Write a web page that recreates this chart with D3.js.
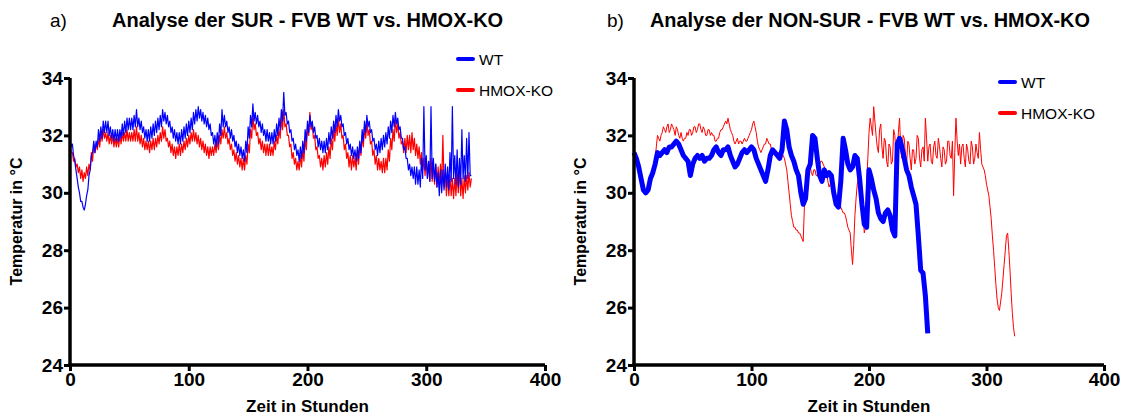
<!DOCTYPE html>
<html>
<head>
<meta charset="utf-8">
<script src="https://cdn.jsdelivr.net/npm/d3@7"></script>
<style>
    body { margin: 0; background: #fff; }
    text { font-family: "Liberation Sans", Arial, Helvetica, sans-serif; }
</style>
</head>
<body>
<div id="chart"></div>
<script>
const xTicks = [0, 100, 200, 300, 400];
const yTicks = [24, 26, 28, 30, 32, 34];
const seriesNames = ["WT", "HMOX-KO"];

// a) SUR - temperature, one value per hour
const surWT = [
    31.9, 31.6, 31.7, 31.3, 31.1, 30.8, 30.5, 30.2, 30.0, 29.7,
    29.7, 29.5, 29.4, 29.6, 29.9, 30.1, 30.6, 30.8, 31.3, 31.4,
    31.8, 31.4, 31.8, 31.6, 32.2, 31.8, 32.3, 31.9, 32.5, 32.1,
    32.5, 32.1, 32.5, 32.0, 32.3, 31.9, 32.2, 31.8, 32.2, 31.8,
    32.2, 31.8, 32.2, 31.9, 32.4, 32.0, 32.5, 32.1, 32.6, 32.2,
    32.6, 32.2, 32.6, 32.2, 32.7, 32.3, 32.9, 32.3, 32.6, 32.2,
    32.5, 32.1, 32.3, 31.9, 32.2, 31.8, 32.2, 31.8, 32.3, 31.9,
    32.4, 32.0, 32.5, 32.1, 32.6, 32.2, 32.7, 32.3, 32.9, 32.5,
    32.8, 32.4, 32.7, 32.3, 32.5, 32.1, 32.3, 31.9, 32.2, 31.8,
    32.1, 31.7, 32.1, 31.7, 32.2, 31.8, 32.3, 31.9, 32.4, 32.0,
    32.5, 32.1, 32.6, 32.2, 32.8, 32.4, 32.9, 32.5, 33.0, 32.6,
    32.9, 32.5, 32.8, 32.4, 32.7, 32.3, 32.6, 32.2, 32.4, 32.0,
    32.1, 31.7, 32.0, 31.6, 32.1, 31.7, 32.4, 32.0, 32.9, 32.3,
    32.7, 32.3, 32.5, 32.1, 32.3, 31.9, 32.2, 31.8, 32.0, 31.6,
    31.8, 31.4, 31.7, 31.3, 31.6, 31.2, 31.5, 31.1, 31.8, 31.4,
    32.3, 31.9, 32.7, 32.3, 33.1, 32.5, 32.8, 32.4, 32.7, 32.3,
    32.5, 32.1, 32.4, 32.0, 32.2, 31.8, 32.2, 31.8, 32.1, 31.7,
    32.1, 31.7, 32.2, 31.8, 32.4, 32.0, 32.6, 32.2, 32.9, 32.5,
    33.5, 32.7, 32.8, 32.4, 32.5, 32.1, 32.2, 31.8, 31.9, 31.5,
    31.7, 31.3, 31.5, 31.1, 31.6, 31.2, 31.8, 31.4, 32.2, 31.8,
    32.5, 32.1, 32.7, 32.3, 32.5, 32.1, 32.3, 31.9, 32.0, 31.6,
    31.9, 31.5, 31.8, 31.4, 31.8, 31.4, 31.9, 31.5, 32.1, 31.7,
    32.3, 31.9, 32.5, 32.1, 32.7, 32.3, 32.9, 32.5, 32.7, 32.3,
    32.4, 32.0, 32.1, 31.7, 31.9, 31.5, 31.7, 31.3, 31.6, 31.2,
    31.5, 31.1, 31.6, 31.2, 31.8, 31.4, 32.2, 31.8, 32.5, 32.1,
    32.7, 32.3, 32.5, 32.1, 32.2, 31.8, 31.9, 31.5, 31.7, 31.3,
    31.8, 31.4, 31.9, 31.5, 32.0, 31.6, 32.1, 31.7, 32.3, 31.9,
    32.5, 32.1, 32.7, 32.3, 32.8, 32.4, 32.6, 32.2, 32.3, 31.9,
    31.9, 31.5, 31.6, 31.2, 31.2, 30.8, 31.0, 30.6, 30.9, 30.5,
    30.9, 30.3, 30.9, 30.3, 30.8, 30.2, 31.2, 30.5, 33.0, 30.8,
    31.3, 30.5, 31.1, 30.4, 33.0, 30.5, 31.2, 30.4, 31.0, 30.2,
    30.7, 29.9, 30.8, 30.0, 30.8, 30.1, 31.0, 30.2, 30.9, 30.1,
    31.4, 30.4, 33.0, 30.5, 31.3, 30.3, 31.5, 30.2, 31.2, 30.3,
    32.2, 30.5, 31.3, 30.4, 31.9, 30.5, 32.1, 30.6, 30.6
];
const surKO = [
    31.7, 31.4, 31.4, 31.1, 31.2, 30.9, 31.0, 30.7, 30.9, 30.5,
    30.8, 30.4, 30.7, 30.5, 30.9, 30.6, 31.0, 30.8, 31.4, 31.1,
    31.7, 31.4, 31.7, 31.5, 31.9, 31.6, 32.1, 31.8, 32.2, 31.9,
    32.1, 31.8, 32.1, 31.7, 32.0, 31.7, 32.0, 31.6, 31.9, 31.6,
    31.9, 31.6, 32.0, 31.7, 32.1, 31.8, 32.1, 31.8, 32.2, 31.8,
    32.1, 31.8, 32.1, 31.8, 32.2, 31.8, 32.3, 31.8, 32.1, 31.7,
    32.0, 31.6, 31.9, 31.5, 31.8, 31.5, 31.8, 31.4, 31.8, 31.5,
    31.9, 31.5, 31.9, 31.6, 32.0, 31.7, 32.1, 31.8, 32.3, 31.9,
    32.2, 31.8, 31.9, 31.6, 31.8, 31.4, 31.7, 31.3, 31.6, 31.2,
    31.6, 31.3, 31.7, 31.3, 31.7, 31.4, 31.8, 31.5, 31.9, 31.6,
    32.0, 31.7, 32.1, 31.8, 32.2, 31.8, 32.1, 31.7, 32.0, 31.6,
    31.9, 31.5, 31.8, 31.4, 31.7, 31.3, 31.6, 31.2, 31.6, 31.3,
    31.6, 31.3, 31.7, 31.4, 31.8, 31.5, 32.0, 31.7, 32.2, 31.9,
    32.3, 31.9, 32.1, 31.7, 31.9, 31.5, 31.7, 31.3, 31.5, 31.1,
    31.4, 31.0, 31.3, 30.9, 31.2, 30.8, 31.2, 30.8, 31.3, 31.0,
    31.7, 31.4, 32.2, 31.9, 32.7, 32.2, 32.4, 32.0, 32.1, 31.7,
    31.9, 31.5, 31.8, 31.4, 31.7, 31.3, 31.7, 31.3, 31.7, 31.3,
    31.6, 31.3, 31.8, 31.5, 32.0, 31.7, 32.2, 31.9, 32.6, 32.2,
    32.9, 32.3, 32.4, 32.0, 32.0, 31.6, 31.7, 31.2, 31.4, 31.0,
    31.2, 30.8, 31.1, 30.8, 31.3, 30.9, 31.5, 31.1, 31.9, 31.5,
    32.3, 32.0, 32.8, 32.2, 32.4, 31.9, 32.0, 31.5, 31.6, 31.2,
    31.3, 30.9, 31.2, 30.8, 31.3, 30.9, 31.4, 31.0, 31.6, 31.2,
    31.9, 31.5, 32.2, 31.8, 32.4, 32.0, 32.6, 32.1, 32.4, 31.9,
    32.0, 31.5, 31.7, 31.2, 31.4, 30.9, 31.3, 30.8, 31.3, 30.9,
    31.2, 30.8, 31.4, 31.0, 31.7, 31.3, 32.0, 31.6, 32.3, 31.9,
    32.5, 32.0, 32.2, 31.7, 31.8, 31.3, 31.5, 31.0, 31.3, 30.8,
    31.2, 30.8, 31.1, 30.7, 31.2, 30.7, 31.2, 30.8, 31.5, 31.1,
    31.9, 31.5, 32.2, 31.8, 32.6, 32.1, 32.4, 31.9, 32.1, 31.7,
    31.8, 31.4, 31.9, 31.4, 32.0, 31.5, 32.0, 31.4, 32.1, 31.5,
    31.9, 31.3, 31.7, 31.2, 31.6, 31.0, 31.4, 30.8, 31.2, 30.6,
    31.2, 30.5, 31.1, 30.4, 31.2, 30.4, 31.0, 30.3, 31.0, 30.2,
    30.9, 30.2, 31.0, 30.3, 32.0, 30.2, 30.7, 29.9, 30.6, 29.9,
    30.6, 29.9, 30.5, 29.8, 30.5, 29.9, 30.7, 30.0, 30.8, 29.9,
    30.5, 29.8, 30.6, 30.0, 30.6, 30.1, 30.7, 30.2, 30.5
];

// b) NON-SUR - WT one value every 2 h, HMOX-KO one value per hour
const nonSurWT = [
    31.4, 31.2, 30.9, 30.5, 30.1, 30.0, 30.1, 30.5, 30.7, 31.0,
    31.4, 31.3, 31.4, 31.5, 31.4, 31.6, 31.6, 31.7, 31.8, 31.7,
    31.5, 31.3, 31.2, 31.1, 30.6, 31.0, 31.2, 31.3, 31.2, 31.3,
    31.1, 31.2, 31.2, 31.3, 31.5, 31.6, 31.4, 31.3, 31.5, 31.5,
    31.6, 31.3, 31.1, 30.9, 31.0, 31.2, 31.4, 31.5, 31.4, 31.5,
    31.6, 31.5, 31.2, 31.0, 30.8, 30.6, 30.4, 30.8, 31.3, 31.5,
    31.4, 31.3, 31.2, 31.5, 32.5, 32.2, 31.6, 31.3, 31.1, 30.8,
    30.6, 30.0, 29.6, 29.8, 30.8, 31.0, 32.0, 31.9, 31.2, 30.6,
    30.4, 30.8, 30.6, 30.7, 30.6, 30.0, 29.6, 29.5, 30.4, 31.9,
    31.5, 31.0, 30.8, 30.9, 31.3, 31.2, 30.5, 29.6, 28.9, 28.8,
    30.8, 30.5, 30.1, 29.8, 29.3, 29.1, 29.0, 29.3, 29.4, 29.2,
    28.7, 28.5, 31.7, 31.9, 31.6, 31.2, 30.8, 30.6, 30.2, 29.9,
    29.6, 28.5, 27.3, 27.2, 26.4, 25.1
];
const nonSurKO = [
    31.5, 31.4, 31.3, 31.1, 30.9, 30.7, 30.5, 30.4, 30.2, 30.1,
    30.1, 30.1, 30.2, 30.3, 30.5, 30.6, 30.8, 31.0, 31.2, 31.6,
    32.0, 31.9, 31.8, 32.0, 32.1, 32.3, 32.2, 32.1, 32.3, 32.4,
    32.1, 32.2, 32.4, 32.3, 32.2, 32.0, 32.3, 32.2, 32.0, 31.9,
    32.1, 31.9, 31.8, 31.9, 31.9, 32.1, 32.0, 32.2, 32.2, 32.0,
    32.1, 32.3, 32.3, 32.1, 32.2, 32.4, 32.4, 32.2, 32.1, 32.3,
    32.2, 32.0, 32.0, 32.2, 32.2, 32.0, 32.1, 32.0, 32.0, 31.8,
    31.8, 31.9, 31.9, 32.1, 32.2, 32.2, 32.3, 32.4, 32.5, 32.4,
    32.6, 32.4, 32.2, 32.1, 32.0, 31.8, 31.7, 31.8, 31.9, 31.7,
    31.8, 31.8, 31.7, 31.8, 31.9, 31.8, 31.8, 31.9, 32.0, 32.1,
    32.2, 32.4, 32.5, 32.3, 32.1, 31.8, 31.6, 31.5, 31.4, 31.5,
    31.6, 31.7, 31.7, 31.9, 31.8, 31.7, 31.7, 31.5, 31.5, 31.4,
    31.4, 31.3, 31.3, 31.4, 31.4, 31.3, 31.3, 31.3, 31.2, 31.0,
    30.8, 30.4, 30.0, 29.6, 29.2, 29.0, 28.8, 28.8, 28.7, 28.7,
    28.6, 28.6, 28.5, 28.4, 28.3, 29.5, 30.0, 30.4, 30.6, 30.8,
    30.9, 30.7, 30.6, 30.8, 30.8, 30.6, 30.6, 30.9, 31.0, 31.1,
    31.1, 31.0, 30.9, 30.8, 30.7, 30.4, 30.2, 30.3, 30.4, 30.2,
    30.1, 30.0, 29.9, 29.8, 29.6, 29.6, 29.5, 29.4, 29.3, 29.3,
    29.2, 29.0, 28.8, 28.7, 28.6, 28.0, 27.5, 28.2, 29.2, 29.8,
    30.3, 30.5, 30.6, 30.3, 29.9, 29.2, 28.6, 28.8, 30.3, 31.2,
    32.1, 32.6, 32.3, 32.0, 33.0, 32.5, 32.0, 31.6, 31.4, 32.2,
    32.4, 31.6, 31.2, 31.9, 31.8, 31.1, 30.9, 31.7, 31.6, 31.0,
    31.1, 32.2, 32.0, 31.3, 31.3, 32.1, 32.6, 31.5, 31.2, 32.0,
    31.9, 31.3, 31.0, 31.8, 31.7, 31.2, 30.8, 31.5, 31.5, 31.0,
    31.2, 32.0, 31.9, 31.2, 30.9, 31.5, 31.6, 31.1, 32.6, 31.9,
    31.1, 31.6, 31.7, 31.1, 31.0, 31.6, 31.8, 31.3, 31.2, 31.9,
    31.6, 31.2, 30.9, 31.6, 31.5, 31.0, 31.1, 31.8, 31.8, 31.3,
    31.2, 31.8, 29.9, 31.4, 32.6, 31.8, 31.3, 31.7, 31.0, 31.6,
    31.7, 31.2, 30.9, 31.7, 31.5, 31.1, 31.0, 31.8, 31.6, 31.0,
    31.2, 31.7, 31.4, 31.2, 32.1, 31.5, 31.0, 30.9, 30.8, 30.6,
    30.3, 30.1, 29.9, 29.5, 29.1, 28.5, 28.0, 27.4, 26.8, 26.3,
    26.0, 25.9, 26.2, 26.5, 27.0, 27.5, 28.0, 28.5, 28.6, 28.0,
    27.3, 26.5, 25.8, 25.3, 25.0
];

const panels = [
    {
        letter: "a)", title: "Analyse der SUR - FVB WT vs. HMOX-KO",
        left: 70, right: 545, titleX: 112, letterX: 50, titleSize: 20,
        wt: surWT, ko: surKO, wtStep: 1, koStep: 1, wtWidth: 1.2, koWidth: 1.2,
        legendX: 458, legendY: 59
    },
    {
        letter: "b)", title: "Analyse der NON-SUR - FVB WT vs. HMOX-KO",
        left: 634, right: 1104, titleX: 650, letterX: 607, titleSize: 19.9,
        wt: nonSurWT, ko: nonSurKO, wtStep: 2, koStep: 1, wtWidth: 5, koWidth: 1,
        legendX: 1000, legendY: 82
    }
];

const blue = "#0000ff", red = "#ff0000";
const plotTop = 78, plotBottom = 365;

const svg = d3.select("#chart")
    .append("svg")
    .attr("width", 1133)
    .attr("height", 415);

panels.forEach(function (p) {
    const x = d3.scaleLinear().domain([0, 400]).range([p.left, p.right]);
    const y = d3.scaleLinear().domain([24, 34]).range([plotBottom, plotTop]);

    const g = svg.append("g");

    // titles
    g.append("text")
        .attr("x", p.letterX).attr("y", 27)
        .attr("font-size", 19)
        .text(p.letter);
    g.append("text")
        .attr("x", p.titleX).attr("y", 27)
        .attr("font-size", p.titleSize).attr("font-weight", "bold")
        .text(p.title);

    function lineFor(step) {
        return d3.line()
            .x(function (d, i) { return x(i * step); })
            .y(function (d) { return y(d); });
    }

    // red first, blue on top
    g.append("path")
        .datum(p.ko)
        .attr("fill", "none")
        .attr("stroke", red)
        .attr("stroke-width", p.koWidth)
        .attr("stroke-linejoin", "round")
        .attr("d", lineFor(p.koStep));
    g.append("path")
        .datum(p.wt)
        .attr("fill", "none")
        .attr("stroke", blue)
        .attr("stroke-width", p.wtWidth)
        .attr("stroke-linejoin", "round")
        .attr("d", lineFor(p.wtStep));

    // axes
    const xAxis = g.append("g")
        .attr("transform", "translate(0," + plotBottom + ")")
        .call(d3.axisBottom(x).tickValues(xTicks).tickSize(6).tickPadding(2));
    const yAxis = g.append("g")
        .attr("transform", "translate(" + p.left + ",0)")
        .call(d3.axisLeft(y).tickValues(yTicks).tickSize(6).tickPadding(1));

    [xAxis, yAxis].forEach(function (a) {
        a.select(".domain").attr("stroke", "#000").attr("stroke-width", 3.5)
            .attr("d", a === xAxis
                ? "M" + (p.left - 1.5) + ",0H" + p.right
                : "M0," + (plotBottom + 1.5) + "V" + plotTop);
        a.selectAll(".tick line").attr("stroke", "#000").attr("stroke-width", 3);
        a.selectAll(".tick text")
            .attr("fill", "#000")
            .attr("font-size", 19)
            .attr("font-weight", "bold")
            .attr("font-family", "Liberation Sans, Arial, sans-serif");
    });

    // axis labels
    g.append("text")
        .attr("x", (p.left + p.right) / 2).attr("y", 412)
        .attr("text-anchor", "middle")
        .attr("font-size", 17).attr("font-weight", "bold")
        .text("Zeit in Stunden");
    g.append("text")
        .attr("transform", "translate(" + (p.left - 48) + "," + (plotTop + plotBottom) / 2 + ") rotate(-90)")
        .attr("text-anchor", "middle")
        .attr("font-size", 16).attr("font-weight", "bold")
        .text("Temperatur in °C");

    // legend
    const colors = [blue, red];
    seriesNames.forEach(function (name, i) {
        const ly = p.legendY + i * 31;
        g.append("line")
            .attr("x1", p.legendX).attr("x2", p.legendX + 15)
            .attr("y1", ly).attr("y2", ly)
            .attr("stroke", colors[i]).attr("stroke-width", 4)
            .attr("stroke-linecap", "round");
        g.append("text")
            .attr("x", p.legendX + 21).attr("y", ly + 5.5)
            .attr("font-size", 15.5)
            .text(name);
    });
});
</script>
</body>
</html>
